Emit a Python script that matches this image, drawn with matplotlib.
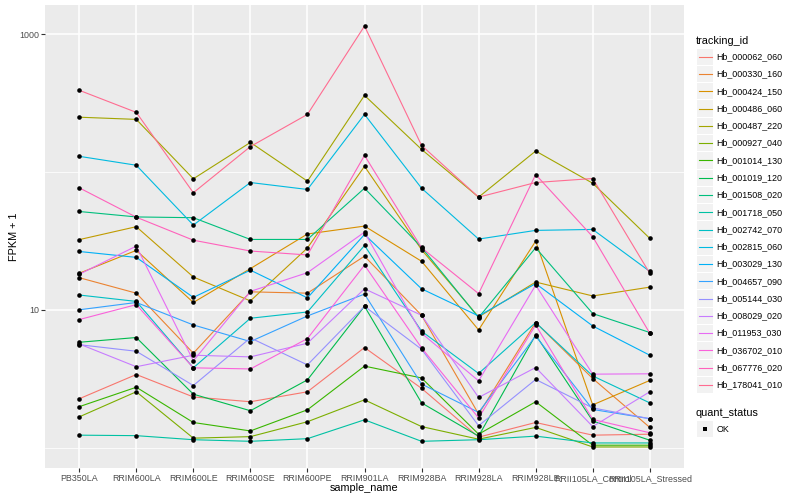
import matplotlib
matplotlib.use("Agg")
import numpy as np
import matplotlib.pyplot as plt
from matplotlib.patches import Rectangle
from matplotlib.ticker import FixedLocator, NullFormatter

plt.rcParams['font.family'] = ['Liberation Sans', 'DejaVu Sans']

samples = ["PB350LA", "RRIM600LA", "RRIM600LE", "RRIM600SE", "RRIM600PE",
           "RRIM901LA", "RRIM928BA", "RRIM928LA", "RRIM928LE",
           "RRII105LA_Control", "RRII105LA_Stressed"]

tracking_ids = ["Hb_000062_060", "Hb_000330_160", "Hb_000424_150", "Hb_000486_060",
                "Hb_000487_220", "Hb_000927_040", "Hb_001014_130", "Hb_001019_120",
                "Hb_001508_020", "Hb_001718_050", "Hb_002742_070", "Hb_002815_060",
                "Hb_003029_130", "Hb_004657_090", "Hb_005144_030", "Hb_008029_020",
                "Hb_011953_030", "Hb_036702_010", "Hb_067776_020", "Hb_178041_010"]

colors = ["#F8766D", "#EA8331", "#D89000", "#C09B00", "#A3A500", "#7CAE00",
          "#39B600", "#00BB4E", "#00BF7D", "#00C1A3", "#00BFC4", "#00BAE0",
          "#00B0F6", "#35A2FF", "#9590FF", "#C77CFF", "#E76BF3", "#FA62DB",
          "#FF62BC", "#FF6C91"]

# FPKM + 1 values, one list per tracking_id (order of samples)
hb_000062_060 = [2.26, 3.39, 2.33, 2.15, 2.54, 5.32, 2.69, 1.19, 1.52, 1.23, 1.25]
hb_000330_160 = [17.1, 13.2, 4.84, 13.5, 13.2, 24.5, 9.12, 1.75, 8.08, 3.17, 1.40]
hb_000424_150 = [18.4, 27.0, 11.3, 19.9, 35.5, 40.5, 22.5, 7.14, 31.5, 2.04, 3.07]
hb_000486_060 = [32.3, 40.1, 17.3, 11.6, 28.1, 110, 27.3, 8.87, 15.9, 12.6, 14.6]
hb_000487_220 = [250, 241, 89.3, 164, 85.8, 360, 146, 65.7, 142, 82.9, 33.0]
hb_000927_040 = [1.67, 2.54, 1.17, 1.20, 1.54, 2.22, 1.42, 1.15, 1.40, 1.01, 1.01]
hb_001014_130 = [1.98, 2.74, 1.52, 1.32, 1.88, 3.90, 3.20, 1.25, 2.15, 1.04, 1.04]
hb_001019_120 = [5.81, 6.29, 2.44, 1.85, 3.10, 10.6, 2.11, 1.21, 6.57, 1.56, 1.13]
hb_001508_020 = [51.7, 47.2, 46.6, 32.4, 32.4, 76.3, 28.4, 8.78, 28.2, 9.39, 6.84]
hb_001718_050 = [1.23, 1.22, 1.14, 1.11, 1.16, 1.59, 1.11, 1.14, 1.21, 1.08, 1.08]
hb_002742_070 = [12.8, 11.5, 3.79, 8.68, 9.64, 29.3, 6.99, 3.45, 8.08, 3.31, 2.11]
hb_002815_060 = [130, 112, 41.2, 83.9, 74.7, 262, 76.3, 32.6, 37.7, 38.3, 19.0]
hb_003029_130 = [26.5, 24.0, 12.3, 19.4, 12.2, 35.2, 14.2, 9.02, 15.5, 7.63, 4.68]
hb_004657_090 = [10.0, 11.3, 7.76, 5.88, 9.02, 13.0, 2.89, 1.80, 6.46, 1.89, 1.62]
hb_005144_030 = [5.58, 5.00, 2.82, 6.25, 3.98, 10.6, 5.17, 1.44, 3.12, 1.94, 1.62]
hb_008029_020 = [5.65, 3.86, 4.68, 4.55, 5.72, 14.2, 9.12, 2.31, 3.81, 1.42, 2.54]
hb_011953_030 = [18.1, 29.0, 4.26, 13.6, 18.6, 36.6, 6.76, 3.05, 15.1, 3.41, 3.43]
hb_036702_010 = [8.49, 10.9, 3.79, 3.72, 6.18, 21.1, 5.29, 1.64, 7.76, 1.60, 1.28]
hb_067776_020 = [76.8, 47.0, 32.0, 26.7, 25.0, 132, 28.2, 13.1, 95.9, 33.9, 6.76]
hb_178041_010 = [392, 271, 70.7, 153, 262, 1147, 156, 65.7, 83.9, 89.7, 18.4]

series = [hb_000062_060, hb_000330_160, hb_000424_150, hb_000486_060, hb_000487_220,
          hb_000927_040, hb_001014_130, hb_001019_120, hb_001508_020, hb_001718_050,
          hb_002742_070, hb_002815_060, hb_003029_130, hb_004657_090, hb_005144_030,
          hb_008029_020, hb_011953_030, hb_036702_010, hb_067776_020, hb_178041_010]

W, H = 800, 500
fig = plt.figure(figsize=(W / 100, H / 100), dpi=100)
fig.patch.set_facecolor("white")

pl, pr, pt, pb = 45, 684, 5, 468
ax = fig.add_axes([pl / W, 1 - pb / H, (pr - pl) / W, (pb - pt) / H])
ax.set_facecolor("#EBEBEB")
for s in ax.spines.values():
    s.set_visible(False)

x = np.arange(len(samples))
for vals, col in zip(series, colors):
    ax.plot(x, vals, color=col, lw=0.8, zorder=2, solid_capstyle="butt")
for vals in series:
    ax.plot(x, vals, ls="none", marker="o", ms=3.3, mfc="black", mec="black",
            mew=0, zorder=3)

ax.set_yscale("log")
allv = np.log10(np.concatenate([np.asarray(v, float) for v in series]))
lo, hi = allv.min(), allv.max()
pad = (hi - lo) * 0.05
ax.set_ylim(10 ** (lo - pad), 10 ** (hi + pad))
ax.set_xlim(-0.6, len(samples) - 1 + 0.6)

ax.yaxis.set_major_locator(FixedLocator([10, 1000]))
ax.yaxis.set_minor_locator(FixedLocator([1, 100]))
ax.yaxis.set_minor_formatter(NullFormatter())
ax.set_yticklabels(["10", "1000"])
ax.set_xticks(x)
ax.set_xticklabels(samples)

ax.grid(True, which="major", color="white", lw=1.1, zorder=0)
ax.grid(True, which="minor", axis="y", color="white", lw=0.55, zorder=0)
ax.set_axisbelow(True)
ax.tick_params(which="major", length=2.7, width=0.8, color="#333333",
               labelsize=6.4, labelcolor="#4D4D4D", pad=1.6)
ax.tick_params(which="minor", length=0)

fig.text(364.5 / W, 1 - 488.3 / H, "sample_name", ha="center", va="center",
         fontsize=7.8, color="black")
fig.text(14 / W, 1 - 236.5 / H, "FPKM + 1", ha="center", va="center",
         rotation=90, fontsize=7.8, color="black")

# legend drawn in pixel coordinates
lg = fig.add_axes([0, 0, 1, 1], zorder=5)
lg.set_xlim(0, W)
lg.set_ylim(H, 0)
lg.axis("off")
lg.patch.set_alpha(0)

lg.text(696, 40.7, "tracking_id", ha="left", va="center", fontsize=7.8)
y0, step = 56.7, 17.28
for i, (name, col) in enumerate(zip(tracking_ids, colors)):
    yc = y0 + i * step
    lg.add_patch(Rectangle((697, yc - step / 2 + 0.5), 16.3, step - 1,
                           facecolor="#F2F2F2", edgecolor="none"))
    lg.plot([698.5, 711.5], [yc, yc], color=col, lw=0.8)
    lg.text(716.7, yc, name, ha="left", va="center", fontsize=6.4)

lg.text(696, 412.7, "quant_status", ha="left", va="center", fontsize=7.8)
yk = 429.3
lg.add_patch(Rectangle((697, yk - step / 2 + 0.5), 16.3, step - 1,
                       facecolor="#F2F2F2", edgecolor="none"))
lg.plot([705], [yk], ls="none", marker="s", ms=2.4, mfc="black", mec="black", mew=0)
lg.text(716.7, yk, "OK", ha="left", va="center", fontsize=6.4)

fig.savefig("out.png", dpi=100)
